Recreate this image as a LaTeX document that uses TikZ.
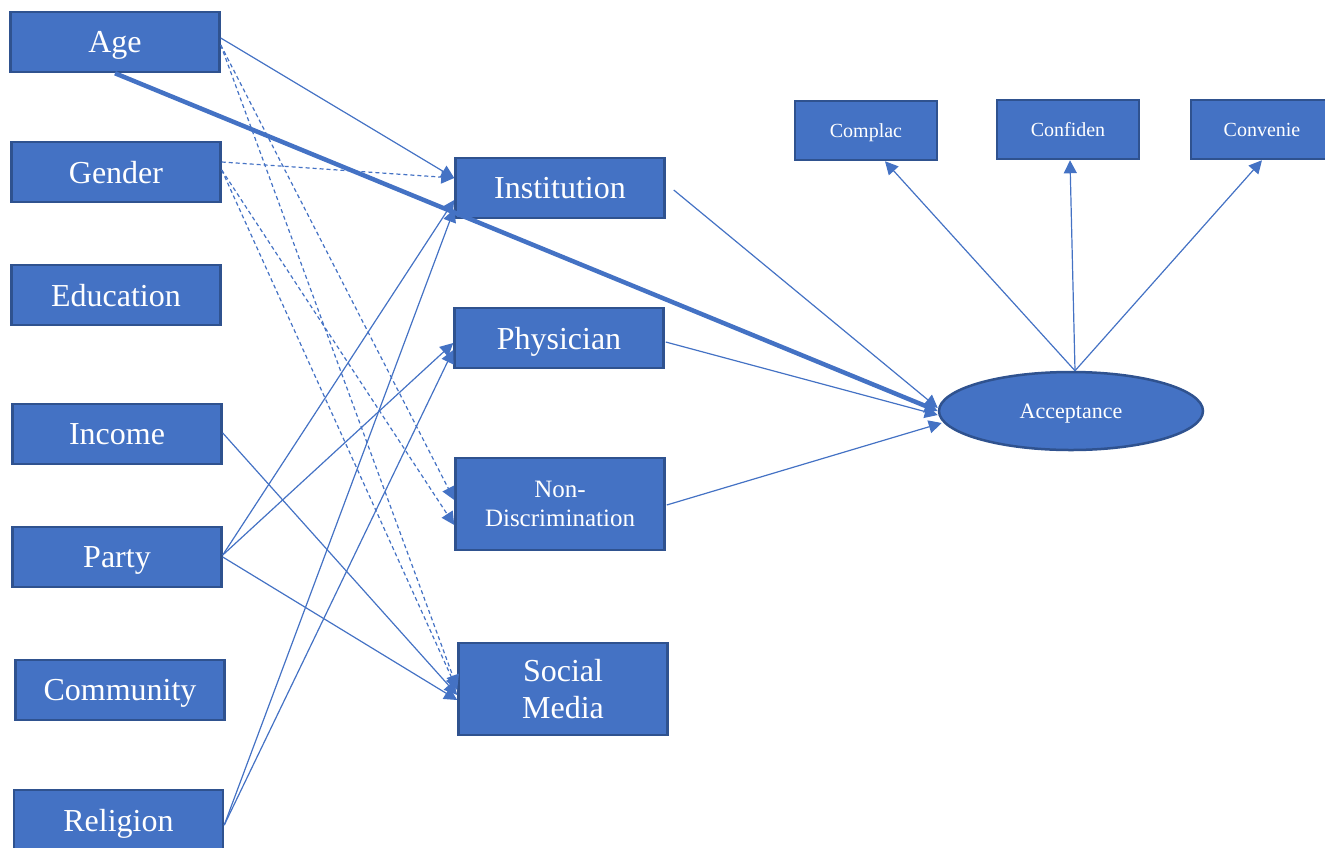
\documentclass[tikz,border=0pt]{standalone}
\usepackage{fontspec}
\setmainfont{Liberation Serif}
\usetikzlibrary{arrows.meta,shapes.geometric}
\definecolor{officeblue}{HTML}{4472C4}
\definecolor{borderblue}{HTML}{2F528F}
\tikzset{
  box/.style={rectangle, fill=officeblue, draw=borderblue, line width=2.5pt, text=white,
    minimum width=209pt, minimum height=60pt, inner sep=0pt, align=center, text depth=0pt,
    font=\fontsize{32}{37}\selectfont},
  smallbox/.style={box, minimum width=142pt, minimum height=59pt, font=\fontsize{20}{23}\selectfont},
  latent/.style={ellipse, fill=officeblue, draw=borderblue, line width=2.5pt, text=white, text depth=0pt,
    minimum width=264pt, minimum height=78pt, inner sep=0pt, font=\fontsize{22}{26}\selectfont},
  link/.style={officeblue, line width=1.2pt, -{Triangle[length=13pt,width=13pt]}},
  dlink/.style={link, dash pattern=on 4pt off 3pt},
  strong link/.style={officeblue, line width=4.5pt, -{Triangle[length=13pt,width=13pt]}}
}
\begin{document}
\begin{tikzpicture}[x=1pt,y=-1pt]
                \useasboundingbox (0,0) rectangle (1325,847);

                \node[box] (age) at (115,42) {Age};
                \node[box] (gender) at (116,172) {Gender};
                \node[box] (education) at (116,295) {Education};
                \node[box] (income) at (117,434) {Income};
                \node[box] (party) at (117,557) {Party};
                \node[box] (community) at (120,690) {Community};
                \node[box] (religion) at (118.5,820) {Religion};

                \node[box] (institution) at (560,188) {Institution};
                \node[box] (physician) at (559,338) {Physician};
                \node[box, minimum height=92pt, font=\fontsize{25}{29}\selectfont] (nondisc) at (560,504) {Non-\\Discrimination};
                \node[box, minimum height=92pt, text depth=-8pt] (social) at (563,689) {Social\\Media};

                \node[latent] (acceptance) at (1071,411) {Acceptance};
                \node[smallbox] (complac) at (866,130.5) {Complac};
                \node[smallbox] (confiden) at (1068,129.5) {Confiden};
                \node[smallbox] (convenie) at (1262,129.5) {Convenie};

                \draw [link] ([yshift=4pt]age.east) -- ([yshift=10pt]institution.west);
                \draw [dlink] ([yshift=-3pt]age.east) -- ([yshift=4pt]nondisc.west);
                \draw [dlink] ([yshift=-3pt]age.east) -- ([yshift=1pt]social.west);
                \draw [dlink] ([yshift=10pt]gender.east) -- ([yshift=10pt]institution.west);
                \draw [dlink] ([yshift=2pt]gender.east) -- ([yshift=-21pt]nondisc.west);
                \draw [dlink] ([yshift=2pt]gender.east) -- ([yshift=-1pt]social.west);
                \draw [link] ([yshift=1pt]income.east) -- ([yshift=-6pt]social.west);
                \draw [link] ([yshift=2pt]party.east) -- ([yshift=-12pt]institution.west);
                \draw [link] ([yshift=2pt]party.east) -- ([yshift=-5pt]physician.west);
                \draw [link] ([yshift=0pt]party.east) -- ([yshift=-11pt]social.west);
                \draw [link] ([yshift=-5pt]religion.east) -- ([yshift=-21pt]institution.west);
                \draw [link] ([yshift=-5pt]religion.east) -- ([yshift=-12pt]physician.west);

                \draw [strong link] (age.south) -- (acceptance.west);
                \draw [link] ([xshift=8pt,yshift=-2pt]institution.east) -- ([yshift=3pt]acceptance.west);
                \draw [link] ([xshift=1pt,yshift=-4pt]physician.east) -- ([yshift=-4pt]acceptance.west);
                \draw [link] ([xshift=1pt,yshift=-1pt]nondisc.east) -- ([xshift=4pt,yshift=-12pt]acceptance.west);

                \draw [link] ([xshift=4pt]acceptance.north) -- ([xshift=19pt]complac.south);
                \draw [link] ([xshift=4pt]acceptance.north) -- ([xshift=2pt]confiden.south);
                \draw [link] ([xshift=4pt]acceptance.north) -- (convenie.south);
\end{tikzpicture}
\end{document}
